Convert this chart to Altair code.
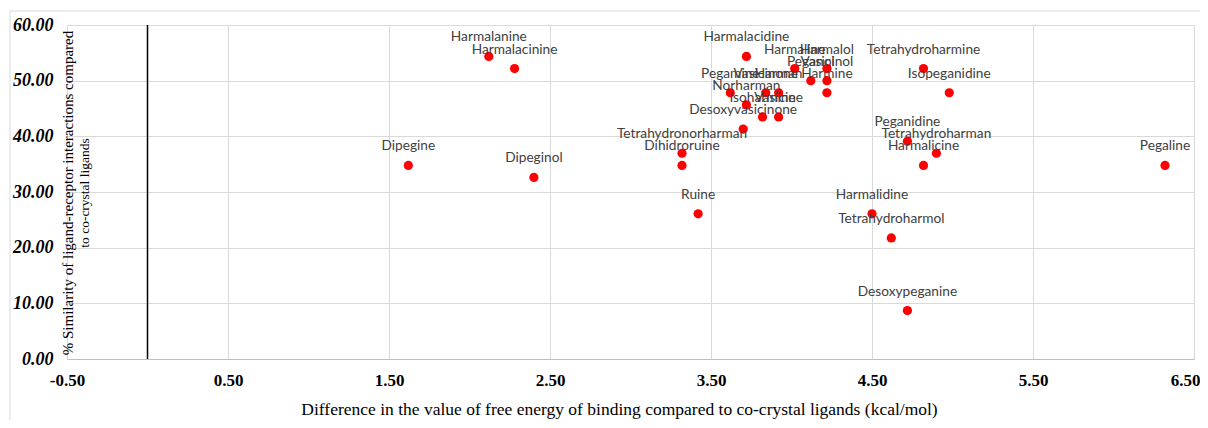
import altair as alt
import pandas as pd

names = ["Dipegine", "Dipeginol", "Harmalanine", "Harmalacinine", "Ruine",
         "Tetrahydronorharman", "Dihidroruine", "Desoxyvasicinone", "Harmalacidine",
         "Harmaline", "Harmalol", "Peganol", "Vasicinol", "Harmine", "Pegamine",
         "Vasicinone", "Harman", "Norharman", "Isoharmine", "Vasicine",
         "Tetrahydroharmine", "Isopeganidine", "Peganidine", "Tetrahydroharman",
         "Harmalicine", "Harmalidine", "Tetrahydroharmol", "Desoxypeganine", "Pegaline"]
energy = [1.62, 2.40, 2.12, 2.28, 3.42,
          3.32, 3.32, 3.70, 3.72,
          4.02, 4.22, 4.12, 4.22, 4.22, 3.62,
          3.84, 3.92, 3.72, 3.82, 3.92,
          4.82, 4.98, 4.72, 4.90,
          4.82, 4.50, 4.62, 4.72, 6.32]
similarity = [34.78, 32.61, 54.35, 52.17, 26.09,
              36.96, 34.78, 41.30, 54.35,
              52.17, 52.17, 50.00, 50.00, 47.83, 47.83,
              47.83, 47.83, 45.65, 43.48, 43.48,
              52.17, 47.83, 39.13, 36.96,
              34.78, 26.09, 21.74, 8.70, 34.78]
x_ticks = [-0.5, 0.5, 1.5, 2.5, 3.5, 4.5, 5.5, 6.5]
y_ticks = [0, 10, 20, 30, 40, 50, 60]

x_title = "Difference in the value of free energy of binding compared to co-crystal ligands (kcal/mol)"
y_title_1 = "% Similarity  of ligand-receptor interactions compared"
y_title_2 = "to co-crystal ligands"

df = pd.DataFrame({"name": names, "x": energy, "y": similarity})
one = pd.DataFrame({"a": [0]})

W, H = 1127, 334

lbl = "datum.value < 0 ? '-' + format(-datum.value, '.2f') : format(datum.value, '.2f')"

xs = alt.X("x:Q", scale=alt.Scale(domain=[-0.5, 6.5], nice=False, zero=False),
           axis=alt.Axis(values=x_ticks, labelExpr=lbl, title=x_title, labelFlush=False,
                         labelAlign={"condition": {"test": "datum.value > 6", "value": "right"},
                                     "value": "center"},
                         labelOffset={"condition": {"test": "datum.value > 6", "value": 6},
                                      "value": 0},
                         grid=True, gridColor="#d9d9d9", domain=True, domainColor="#bfbfbf",
                         ticks=False, labelPadding=13, labelFont="Liberation Serif",
                         labelFontSize=17, labelFontWeight="bold", labelColor="#000000",
                         titleFont="Liberation Serif", titleFontSize=17.5, titleFontWeight="normal",
                         titleColor="#000000", titlePadding=12, titleX=552))
ys = alt.Y("y:Q", scale=alt.Scale(domain=[0, 60], nice=False),
           axis=alt.Axis(values=y_ticks, format=".2f", title=None,
                         grid=True, gridColor="#d9d9d9", domain=False,
                         ticks=False, labelPadding=14, labelFont="Liberation Serif",
                         labelFontSize=18, labelFontWeight="bold", labelFontStyle="italic",
                         labelColor="#000000"))

base = alt.Chart(df)

zero_rule = alt.Chart(pd.DataFrame({"x": [0.0], "y": [0.0], "y2": [60.0]})).mark_rule(
    color="#000000", strokeWidth=1.5).encode(
    x=alt.X("x:Q", scale=alt.Scale(domain=[-0.5, 6.5])), y="y:Q", y2="y2:Q")

points = base.mark_circle(size=85, color="#ff0000", opacity=1).encode(x=xs, y=ys)

labels = base.mark_text(font="Lato", fontSize=13.7, color="#404040", dy=-19,
                        align="center", baseline="middle").encode(
    x="x:Q", y="y:Q", text="name:N")

yt1 = alt.Chart(one).mark_text(font="Liberation Serif", fontSize=15, color="#000000",
                               angle=270, align="center", baseline="middle").encode(
    x=alt.value(1), y=alt.value(168), text=alt.value(y_title_1))
yt2 = alt.Chart(one).mark_text(font="Liberation Serif", fontSize=13.5, color="#000000",
                               angle=270, align="center", baseline="middle").encode(
    x=alt.value(18), y=alt.value(168), text=alt.value(y_title_2))

border_top = alt.Chart(one).mark_rule(color="#d9d9d9", strokeWidth=1).encode(
    x=alt.value(-57), x2=alt.value(1133), y=alt.value(-14))
border_left = alt.Chart(one).mark_rule(color="#d9d9d9", strokeWidth=1).encode(
    x=alt.value(-57), y=alt.value(-14), y2=alt.value(395))

chart = alt.layer(border_top, border_left, zero_rule, points, labels, yt1, yt2).properties(
    width=W, height=H,
    autosize=alt.AutoSizeParams(type="none"),
    padding={"left": 59, "top": 17, "right": 6, "bottom": 61},
).configure_view(stroke=None).configure(background="#ffffff")

chart.save("out.html", embed_options={"renderer": "svg", "actions": False})
